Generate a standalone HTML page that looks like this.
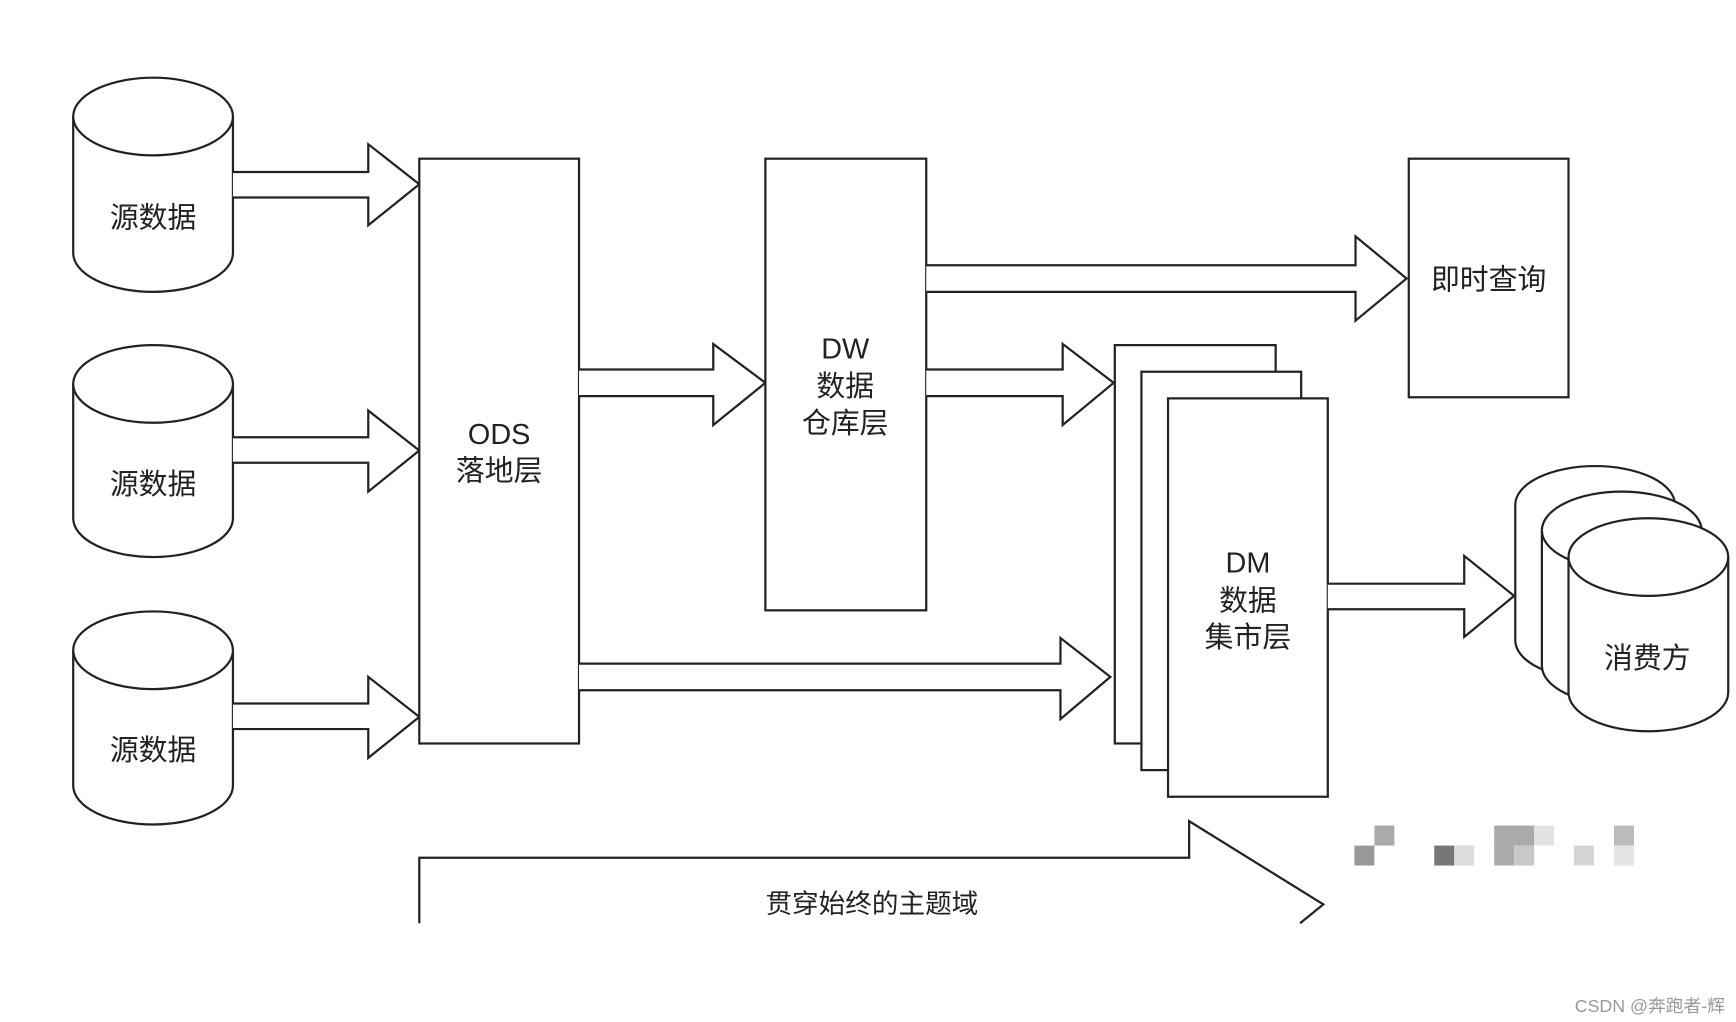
<!DOCTYPE html>
<html><head><meta charset="utf-8"><style>
html,body{margin:0;padding:0;background:#fff;}
svg{display:block;}
text{font-family:"Liberation Sans","Noto Sans CJK SC",sans-serif;fill:#222;}
</style></head><body>
<svg width="1736" height="1022" viewBox="0 0 1565 921" preserveAspectRatio="none" xmlns="http://www.w3.org/2000/svg">
<rect width="1565" height="921" fill="#fff"/>
<g fill="#fff" stroke="#222" stroke-width="2">
  <!-- source cylinders -->
  <path d="M66,105 A72,35 0 0 1 210,105 L210,228 A72,35 0 0 1 66,228 Z"/>
  <path d="M66,105 A72,35 0 0 0 210,105"/>
  <path d="M66,346 A72,35 0 0 1 210,346 L210,467 A72,35 0 0 1 66,467 Z"/>
  <path d="M66,346 A72,35 0 0 0 210,346"/>
  <path d="M66,586 A72,35 0 0 1 210,586 L210,708 A72,35 0 0 1 66,708 Z"/>
  <path d="M66,586 A72,35 0 0 0 210,586"/>

  <!-- arrows source -> ODS -->
  <path d="M210,155 L332,155 L332,130 L378,166 L332,203 L332,178 L210,178"/>
  <path d="M210,394 L332,394 L332,370 L378,406 L332,443 L332,417 L210,417"/>
  <path d="M210,634 L332,634 L332,610 L378,646 L332,683 L332,657 L210,657"/>

  <!-- ODS -->
  <rect x="378" y="143" width="144" height="527"/>
  <!-- ODS -> DW -->
  <path d="M522,333 L643,333 L643,310 L690,345 L643,383 L643,357 L522,357"/>
  <!-- DW -->
  <rect x="690" y="143" width="145" height="407"/>
  <!-- DW -> query -->
  <path d="M835,239 L1222,239 L1222,213 L1268,251 L1222,289 L1222,263 L835,263"/>
  <rect x="1270" y="143" width="144" height="215"/>
  <!-- DW -> DM -->
  <path d="M835,333 L958,333 L958,310 L1004,345 L958,383 L958,357 L835,357"/>
  <!-- ODS -> DM -->
  <path d="M522,598 L956,598 L956,575 L1001,610 L956,648 L956,622 L522,622"/>
  <!-- DM stack -->
  <rect x="1005" y="311" width="145" height="359"/>
  <rect x="1029" y="335" width="144" height="359"/>
  <rect x="1053" y="359" width="144" height="359"/>
  <!-- DM -> consumer -->
  <path d="M1197,526 L1320,526 L1320,501 L1365,537 L1320,574 L1320,549 L1197,549"/>
  <!-- consumer cylinders -->
  <path d="M1366,455 A72,35 0 0 1 1510,455 L1510,577 A72,35 0 0 1 1366,577 Z"/>
  <path d="M1390,478 A72,35 0 0 1 1534,478 L1534,600 A72,35 0 0 1 1390,600 Z"/>
  <path d="M1390,478 A72,35 0 0 0 1534,478"/>
  <path d="M1414,502 A72,35 0 0 1 1558,502 L1558,624 A72,35 0 0 1 1414,624 Z"/>
  <path d="M1414,502 A72,35 0 0 0 1558,502"/>
  <!-- bottom arrow -->
  <path d="M378,832 L378,773 L1072,773 L1072,740 L1193,815 L1172,832" fill="none"/>
</g>
<rect x="0" y="833" width="1565" height="88" fill="#fff"/>

<g font-size="26" text-anchor="middle">
  <text x="138" y="205">源数据</text>
  <text x="138" y="445">源数据</text>
  <text x="138" y="685">源数据</text>
  <text x="450" y="400">ODS</text>
  <text x="450" y="433">落地层</text>
  <text x="762" y="323">DW</text>
  <text x="762" y="357">数据</text>
  <text x="762" y="390">仓库层</text>
  <text x="1342" y="261">即时查询</text>
  <text x="1125" y="516">DM</text>
  <text x="1125" y="550">数据</text>
  <text x="1125" y="583">集市层</text>
  <text x="1485" y="602">消费方</text>
  <text x="786" y="823" font-size="24">贯穿始终的主题域</text>
</g>

<!-- mosaic -->
<g>
  <rect x="1239" y="744" width="18" height="18" fill="#aaa"/>
  <rect x="1347" y="744" width="36" height="18" fill="#aaa"/>
  <rect x="1383" y="744" width="18" height="18" fill="#e2e2e2"/>
  <rect x="1455" y="744" width="18" height="18" fill="#bbb"/>
  <rect x="1221" y="762" width="18" height="18" fill="#999"/>
  <rect x="1293" y="762" width="18" height="18" fill="#777"/>
  <rect x="1311" y="762" width="18" height="18" fill="#ddd"/>
  <rect x="1347" y="762" width="18" height="18" fill="#aaa"/>
  <rect x="1365" y="762" width="18" height="18" fill="#c8c8c8"/>
  <rect x="1419" y="762" width="18" height="18" fill="#d5d5d5"/>
  <rect x="1455" y="762" width="18" height="18" fill="#e5e5e5"/>
</g>

<text x="1555" y="912" font-size="16" text-anchor="end" style="fill:#999">CSDN @奔跑者-辉</text>
</svg>
</body></html>
